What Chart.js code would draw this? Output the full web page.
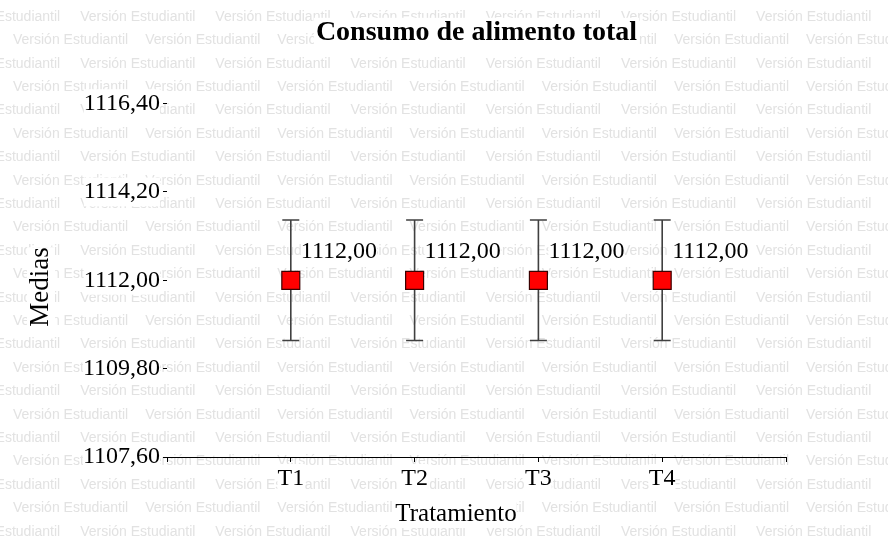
<!DOCTYPE html>
<html>
<head>
<meta charset="utf-8">
<script src="https://cdn.jsdelivr.net/npm/chart.js@4.4.1/dist/chart.umd.min.js"></script>
<style>
  html, body { margin: 0; padding: 0; background: #ffffff; }
  #wrap { width: 888px; height: 541px; }
</style>
</head>
<body>
<div id="wrap"><canvas id="c" width="888" height="541"></canvas></div>
<script>
// Medias por tratamiento con sus intervalos
const categories = ['T1', 'T2', 'T3', 'T4'];
const medias = [1112.00, 1112.00, 1112.00, 1112.00];
const limiteInferior = [1110.50, 1110.50, 1110.50, 1110.50];
const limiteSuperior = [1113.50, 1113.50, 1113.50, 1113.50];
const yTicks = [1107.60, 1109.80, 1112.00, 1114.20, 1116.40];

const titulo = 'Consumo de alimento total';
const tituloEjeY = 'Medias';
const tituloEjeX = 'Tratamiento';
const marcaAgua = 'Versión Estudiantil';

const SERIF = '"Liberation Serif", "Times New Roman", serif';
const fmt = v => v.toFixed(2).replace('.', ',');

// Fondo con la marca de agua repetida en filas
const fondoPlugin = {
  id: 'fondo',
  beforeDraw(chart) {
    const ctx = chart.ctx;
    const W = chart.width, H = chart.height;
    ctx.save();
    ctx.fillStyle = '#ffffff';
    ctx.fillRect(0, 0, W, H);
    ctx.font = '14px "Liberation Sans", Arial, sans-serif';
    ctx.fillStyle = '#e2e2e2';
    ctx.textBaseline = 'middle';
    const w = ctx.measureText(marcaAgua).width;
    for (let r = 0; r < 23; r++) {
      const y = 17 + r * 23.4;
      const x0 = (r % 2 === 0) ? -55 : 13;
      const paso = w + ((r % 2 === 0) ? 20 : 17);
      for (let x = x0; x < W; x += paso) ctx.fillText(marcaAgua, x, y);
    }
    // recuadro blanco detrás del título
    const tb = chart.titleBlock;
    const area = chart.chartArea;
    ctx.font = 'bold 28px ' + SERIF;
    const tw = ctx.measureText(titulo).width;
    const cx = (area.left + area.right) / 2;
    const cy = tb.top + 16 + 16.8;
    ctx.fillStyle = '#ffffff';
    ctx.fillRect(cx - tw / 2 - 2, cy - 15, tw + 4, 27);
    ctx.restore();
  }
};

// Barras de error verticales con remates
const barrasErrorPlugin = {
  id: 'barrasError',
  beforeDatasetsDraw(chart) {
    const ctx = chart.ctx;
    const xs = chart.scales.x, ys = chart.scales.y;
    ctx.save();
    ctx.strokeStyle = '#404040';
    ctx.lineWidth = 1.6;
    for (let i = 0; i < categories.length; i++) {
      const px = xs.getPixelForValue(i);
      const yS = ys.getPixelForValue(limiteSuperior[i]);
      const yI = ys.getPixelForValue(limiteInferior[i]);
      ctx.beginPath();
      ctx.moveTo(px, yS); ctx.lineTo(px, yI);
      ctx.moveTo(px - 8.5, yS); ctx.lineTo(px + 8.5, yS);
      ctx.moveTo(px - 8.5, yI); ctx.lineTo(px + 8.5, yI);
      ctx.stroke();
    }
    ctx.restore();
  }
};

// Etiquetas con el valor de cada media
const etiquetasPlugin = {
  id: 'etiquetas',
  afterDatasetsDraw(chart) {
    const ctx = chart.ctx;
    const xs = chart.scales.x, ys = chart.scales.y;
    ctx.save();
    ctx.font = '24px ' + SERIF;
    ctx.textBaseline = 'alphabetic';
    ctx.textAlign = 'left';
    for (let i = 0; i < medias.length; i++) {
      const px = xs.getPixelForValue(i) + 10;
      const base = ys.getPixelForValue(medias[i]) - 22;
      const t = fmt(medias[i]);
      const tw = ctx.measureText(t).width;
      ctx.fillStyle = '#ffffff';
      ctx.fillRect(px, base - 19, tw, 23);
      ctx.fillStyle = '#000000';
      ctx.fillText(t, px, base);
    }
    ctx.restore();
  }
};

// Títulos de los ejes
const titulosEjesPlugin = {
  id: 'titulosEjes',
  afterDraw(chart) {
    const ctx = chart.ctx;
    ctx.save();
    ctx.textAlign = 'center';
    ctx.textBaseline = 'middle';
    // eje X
    ctx.font = '25px ' + SERIF;
    let tw = ctx.measureText(tituloEjeX).width;
    ctx.fillStyle = '#ffffff';
    ctx.fillRect(456 - tw / 2, 501, tw, 27);
    ctx.fillStyle = '#000000';
    ctx.fillText(tituloEjeX, 456, 514);
    // eje Y
    ctx.translate(41, 287);
    ctx.rotate(-Math.PI / 2);
    ctx.font = '27px ' + SERIF;
    tw = ctx.measureText(tituloEjeY).width;
    ctx.fillStyle = '#ffffff';
    ctx.fillRect(-tw / 2, -14, tw, 28);
    ctx.fillStyle = '#000000';
    ctx.fillText(tituloEjeY, 0, 0);
    ctx.restore();
  }
};

const puntos = medias.map((m, i) => ({ x: i, y: m }));

new Chart(document.getElementById('c'), {
  type: 'scatter',
  data: {
    datasets: [{
      label: 'Medias',
      data: puntos,
      pointStyle: 'rect',
      pointRadius: 12.7,
      pointHoverRadius: 12.7,
      pointBackgroundColor: '#ff0000',
      pointBorderColor: '#3a0000',
      pointBorderWidth: 1.2
    }]
  },
  options: {
    responsive: false,
    animation: false,
    devicePixelRatio: 1,
    layout: { padding: { left: 0, right: 102, top: 0, bottom: 0 } },
    plugins: {
      legend: { display: false },
      tooltip: { enabled: false },
      title: {
        display: true,
        text: titulo,
        fullSize: false,
        color: '#000000',
        font: { family: SERIF, size: 28, weight: 'bold' },
        padding: { top: 16, bottom: 54 }
      }
    },
    scales: {
      x: {
        type: 'linear',
        min: -1,
        max: 4,
        afterBuildTicks(scale) {
          scale.ticks = [-1, 0, 1, 2, 3, 4].map(v => ({ value: v }));
        },
        afterFit(scale) { scale.height = 84; },
        ticks: {
          color: '#000000',
          font: { family: SERIF, size: 24 },
          padding: 2,
          maxRotation: 0,
          autoSkip: false,
          showLabelBackdrop: true,
          backdropColor: '#ffffff',
          backdropPadding: 0,
          callback: v => (categories[v] !== undefined ? categories[v] : '')
        },
        grid: {
          drawOnChartArea: false,
          drawTicks: true,
          tickLength: 5,
          color: '#000000'
        },
        border: { display: true, color: '#000000', width: 1 }
      },
      y: {
        min: yTicks[0],
        max: yTicks[yTicks.length - 1],
        afterBuildTicks(scale) {
          scale.ticks = yTicks.map(v => ({ value: v }));
        },
        afterFit(scale) { scale.width = 167; },
        ticks: {
          color: '#000000',
          font: { family: SERIF, size: 24 },
          padding: 3,
          showLabelBackdrop: true,
          backdropColor: '#ffffff',
          backdropPadding: 0,
          callback: v => fmt(v)
        },
        grid: {
          drawOnChartArea: false,
          drawTicks: true,
          tickLength: 4,
          color: '#000000'
        },
        border: { display: false }
      }
    }
  },
  plugins: [fondoPlugin, barrasErrorPlugin, etiquetasPlugin, titulosEjesPlugin]
});
</script>
</body>
</html>
